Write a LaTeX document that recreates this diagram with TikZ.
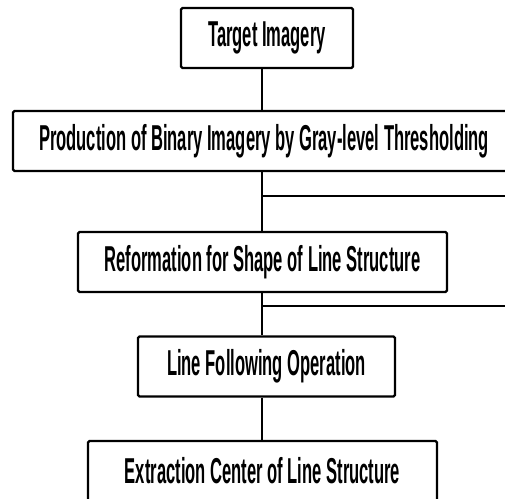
\documentclass[tikz,border=0pt]{standalone}
\usepackage{fontspec}
\setmainfont{Liberation Sans}[FakeStretch=0.46]
\usetikzlibrary{positioning}
\tikzset{
  stage/.style={draw, line width=2.2pt, rounded corners=1.5pt, align=center, inner sep=0pt,
    minimum height=60pt, font=\fontsize{36}{40}\selectfont\bfseries},
  link/.style={line width=2pt},
  tap/.style={line width=1.8pt}
}

\begin{document}
\begin{tikzpicture}[x=1pt,y=-1pt]

\useasboundingbox (0,0) rectangle (505,498);
\clip (0,0) rectangle (505,498);

% Column of processing stages
\node[stage, minimum width=172pt] (Tgt)  at (267,38)    {Target Imagery};
\node[stage, minimum width=502pt] (Bin)  at (264,141)   {Production of Binary Imagery by Gray-level Thresholding};
\node[stage, minimum width=369pt] (Ref)  at (262.5,262) {Reformation for Shape of Line Structure};
\node[stage, minimum width=257pt] (Fol)  at (266.5,366.5) {Line Following Operation};
\node[stage, minimum width=349pt] (Ext)  at (262.5,471) {Extraction Center of Line Structure};

% Trunk position
\coordinate (trunk) at (262,0);

% Side taps leaving to the right
\coordinate (TapA)  at (262,196);
\coordinate (TapAe) at (505,196);
\coordinate (TapB)  at (262,306);
\coordinate (TapBe) at (505,306);

% Trunk connectors
\draw[link] (Tgt.south -| trunk) -- (Bin.north -| trunk);
\draw[link] (Bin.south -| trunk) -- (Ref.north -| trunk);
\draw[link] (Ref.south -| trunk) -- (Fol.north -| trunk);
\draw[link] (Fol.south -| trunk) -- (Ext.north -| trunk);

% Taps
\draw[tap] (TapA) -- (TapAe);
\draw[tap] (TapB) -- (TapBe);

\end{tikzpicture}
\end{document}
